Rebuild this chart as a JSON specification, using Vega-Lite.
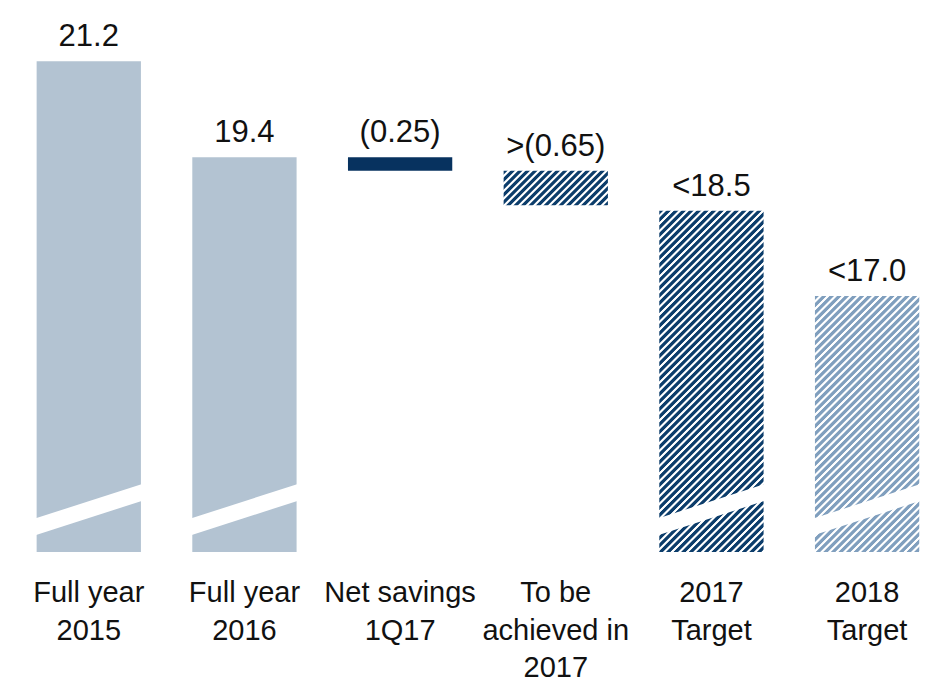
{
  "$schema": "https://vega.github.io/schema/vega-lite/v6.json",
  "width": 927,
  "height": 552,
  "autosize": {"type": "none"},
  "padding": {"left": 10, "top": 0, "right": 0, "bottom": 128},
  "background": "#ffffff",
  "config": {"view": {"stroke": null}, "font": "Liberation Sans"},
  "data": {
    "values": [
      {"cat": "Full year|2015", "lo": 12, "hi": 21.2, "label": "21.2", "kind": "actual"},
      {"cat": "Full year|2016", "lo": 12, "hi": 19.4, "label": "19.4", "kind": "actual"},
      {"cat": "Net savings|1Q17", "lo": 19.15, "hi": 19.4, "label": "(0.25)", "kind": "achieved"},
      {"cat": "To be|achieved in|2017", "lo": 18.5, "hi": 19.15, "label": ">(0.65)", "kind": "remaining"},
      {"cat": "2017|Target", "lo": 12, "hi": 18.4, "label": "<18.5", "kind": "target2017"},
      {"cat": "2018|Target", "lo": 12, "hi": 16.8, "label": "<17.0", "kind": "target2018"}
    ]
  },
  "encoding": {
    "x": {
      "field": "cat",
      "type": "nominal",
      "sort": null,
      "scale": {"type": "band", "paddingInner": 0.33, "paddingOuter": 0.1426, "align": 0.6, "round": false},
      "axis": null
    }
  },
  "layer": [
    {
      "transform": [{"filter": "datum.kind == 'actual'"}],
      "mark": {"type": "bar", "fill": "#b3c3d2"},
      "encoding": {
        "y": {"field": "lo", "type": "quantitative", "scale": {"domain": [12, 22.35], "nice": false, "zero": false}, "axis": null},
        "y2": {"field": "hi"}
      }
    },
    {
      "transform": [{"filter": "datum.kind == 'achieved'"}],
      "mark": {"type": "bar", "fill": "#07325f"},
      "encoding": {
        "y": {"field": "lo", "type": "quantitative", "scale": {"domain": [12, 22.35], "nice": false, "zero": false}, "axis": null},
        "y2": {"field": "hi"}
      }
    },
    {
      "transform": [{"filter": "datum.kind == 'remaining'"}],
      "mark": {"type": "bar", "fill": {"gradient": "linear", "x1": 0, "y1": 0, "x2": 1.1998, "y2": 0.3988, "stops": [
        {"offset": 0, "color": "#0c3d6b"}, {"offset": 0.0243, "color": "#0c3d6b"}, {"offset": 0.0324, "color": "#ffffff"}, {"offset": 0.0459, "color": "#ffffff"},
        {"offset": 0.054, "color": "#0c3d6b"}, {"offset": 0.0783, "color": "#0c3d6b"}, {"offset": 0.0864, "color": "#ffffff"}, {"offset": 0.0999, "color": "#ffffff"},
        {"offset": 0.108, "color": "#0c3d6b"}, {"offset": 0.1323, "color": "#0c3d6b"}, {"offset": 0.1404, "color": "#ffffff"}, {"offset": 0.1539, "color": "#ffffff"},
        {"offset": 0.162, "color": "#0c3d6b"}, {"offset": 0.1863, "color": "#0c3d6b"}, {"offset": 0.1944, "color": "#ffffff"}, {"offset": 0.2079, "color": "#ffffff"},
        {"offset": 0.216, "color": "#0c3d6b"}, {"offset": 0.2403, "color": "#0c3d6b"}, {"offset": 0.2484, "color": "#ffffff"}, {"offset": 0.2619, "color": "#ffffff"},
        {"offset": 0.27, "color": "#0c3d6b"}, {"offset": 0.2943, "color": "#0c3d6b"}, {"offset": 0.3024, "color": "#ffffff"}, {"offset": 0.3159, "color": "#ffffff"},
        {"offset": 0.324, "color": "#0c3d6b"}, {"offset": 0.3483, "color": "#0c3d6b"}, {"offset": 0.3564, "color": "#ffffff"}, {"offset": 0.3699, "color": "#ffffff"},
        {"offset": 0.378, "color": "#0c3d6b"}, {"offset": 0.4023, "color": "#0c3d6b"}, {"offset": 0.4104, "color": "#ffffff"}, {"offset": 0.4239, "color": "#ffffff"},
        {"offset": 0.432, "color": "#0c3d6b"}, {"offset": 0.4563, "color": "#0c3d6b"}, {"offset": 0.4644, "color": "#ffffff"}, {"offset": 0.4779, "color": "#ffffff"},
        {"offset": 0.486, "color": "#0c3d6b"}, {"offset": 0.5103, "color": "#0c3d6b"}, {"offset": 0.5184, "color": "#ffffff"}, {"offset": 0.5319, "color": "#ffffff"},
        {"offset": 0.54, "color": "#0c3d6b"}, {"offset": 0.5643, "color": "#0c3d6b"}, {"offset": 0.5724, "color": "#ffffff"}, {"offset": 0.5859, "color": "#ffffff"},
        {"offset": 0.594, "color": "#0c3d6b"}, {"offset": 0.6183, "color": "#0c3d6b"}, {"offset": 0.6264, "color": "#ffffff"}, {"offset": 0.6399, "color": "#ffffff"},
        {"offset": 0.648, "color": "#0c3d6b"}, {"offset": 0.6723, "color": "#0c3d6b"}, {"offset": 0.6804, "color": "#ffffff"}, {"offset": 0.6939, "color": "#ffffff"},
        {"offset": 0.702, "color": "#0c3d6b"}, {"offset": 0.7263, "color": "#0c3d6b"}, {"offset": 0.7344, "color": "#ffffff"}, {"offset": 0.7479, "color": "#ffffff"},
        {"offset": 0.756, "color": "#0c3d6b"}, {"offset": 0.7803, "color": "#0c3d6b"}, {"offset": 0.7884, "color": "#ffffff"}, {"offset": 0.8019, "color": "#ffffff"},
        {"offset": 0.81, "color": "#0c3d6b"}, {"offset": 0.8343, "color": "#0c3d6b"}, {"offset": 0.8424, "color": "#ffffff"}, {"offset": 0.8559, "color": "#ffffff"},
        {"offset": 0.864, "color": "#0c3d6b"}, {"offset": 0.8883, "color": "#0c3d6b"}, {"offset": 0.8964, "color": "#ffffff"}, {"offset": 0.9099, "color": "#ffffff"},
        {"offset": 0.918, "color": "#0c3d6b"}, {"offset": 0.9423, "color": "#0c3d6b"}, {"offset": 0.9504, "color": "#ffffff"}, {"offset": 0.9639, "color": "#ffffff"},
        {"offset": 0.972, "color": "#0c3d6b"}, {"offset": 0.9963, "color": "#0c3d6b"}, {"offset": 1, "color": "#ffffff"}
      ]}},
      "encoding": {
        "y": {"field": "lo", "type": "quantitative", "scale": {"domain": [12, 22.35], "nice": false, "zero": false}, "axis": null},
        "y2": {"field": "hi"}
      }
    },
    {
      "transform": [{"filter": "datum.kind == 'target2017'"}],
      "mark": {"type": "bar", "fill": {"gradient": "linear", "x1": 0, "y1": 0, "x2": 0.3649, "y2": 1.1941, "stops": [
        {"offset": 0, "color": "#0c3d6b"}, {"offset": 0.0077, "color": "#0c3d6b"}, {"offset": 0.0102, "color": "#ffffff"}, {"offset": 0.0145, "color": "#ffffff"},
        {"offset": 0.017, "color": "#0c3d6b"}, {"offset": 0.0247, "color": "#0c3d6b"}, {"offset": 0.0272, "color": "#ffffff"}, {"offset": 0.0315, "color": "#ffffff"},
        {"offset": 0.034, "color": "#0c3d6b"}, {"offset": 0.0417, "color": "#0c3d6b"}, {"offset": 0.0442, "color": "#ffffff"}, {"offset": 0.0485, "color": "#ffffff"},
        {"offset": 0.051, "color": "#0c3d6b"}, {"offset": 0.0587, "color": "#0c3d6b"}, {"offset": 0.0612, "color": "#ffffff"}, {"offset": 0.0655, "color": "#ffffff"},
        {"offset": 0.068, "color": "#0c3d6b"}, {"offset": 0.0757, "color": "#0c3d6b"}, {"offset": 0.0782, "color": "#ffffff"}, {"offset": 0.0825, "color": "#ffffff"},
        {"offset": 0.085, "color": "#0c3d6b"}, {"offset": 0.0927, "color": "#0c3d6b"}, {"offset": 0.0952, "color": "#ffffff"}, {"offset": 0.0995, "color": "#ffffff"},
        {"offset": 0.102, "color": "#0c3d6b"}, {"offset": 0.1097, "color": "#0c3d6b"}, {"offset": 0.1122, "color": "#ffffff"}, {"offset": 0.1165, "color": "#ffffff"},
        {"offset": 0.119, "color": "#0c3d6b"}, {"offset": 0.1267, "color": "#0c3d6b"}, {"offset": 0.1292, "color": "#ffffff"}, {"offset": 0.1335, "color": "#ffffff"},
        {"offset": 0.136, "color": "#0c3d6b"}, {"offset": 0.1437, "color": "#0c3d6b"}, {"offset": 0.1462, "color": "#ffffff"}, {"offset": 0.1505, "color": "#ffffff"},
        {"offset": 0.153, "color": "#0c3d6b"}, {"offset": 0.1607, "color": "#0c3d6b"}, {"offset": 0.1632, "color": "#ffffff"}, {"offset": 0.1675, "color": "#ffffff"},
        {"offset": 0.17, "color": "#0c3d6b"}, {"offset": 0.1777, "color": "#0c3d6b"}, {"offset": 0.1802, "color": "#ffffff"}, {"offset": 0.1845, "color": "#ffffff"},
        {"offset": 0.187, "color": "#0c3d6b"}, {"offset": 0.1947, "color": "#0c3d6b"}, {"offset": 0.1972, "color": "#ffffff"}, {"offset": 0.2015, "color": "#ffffff"},
        {"offset": 0.204, "color": "#0c3d6b"}, {"offset": 0.2117, "color": "#0c3d6b"}, {"offset": 0.2142, "color": "#ffffff"}, {"offset": 0.2185, "color": "#ffffff"},
        {"offset": 0.221, "color": "#0c3d6b"}, {"offset": 0.2287, "color": "#0c3d6b"}, {"offset": 0.2312, "color": "#ffffff"}, {"offset": 0.2355, "color": "#ffffff"},
        {"offset": 0.238, "color": "#0c3d6b"}, {"offset": 0.2457, "color": "#0c3d6b"}, {"offset": 0.2482, "color": "#ffffff"}, {"offset": 0.2525, "color": "#ffffff"},
        {"offset": 0.255, "color": "#0c3d6b"}, {"offset": 0.2627, "color": "#0c3d6b"}, {"offset": 0.2652, "color": "#ffffff"}, {"offset": 0.2695, "color": "#ffffff"},
        {"offset": 0.272, "color": "#0c3d6b"}, {"offset": 0.2797, "color": "#0c3d6b"}, {"offset": 0.2822, "color": "#ffffff"}, {"offset": 0.2865, "color": "#ffffff"},
        {"offset": 0.289, "color": "#0c3d6b"}, {"offset": 0.2967, "color": "#0c3d6b"}, {"offset": 0.2992, "color": "#ffffff"}, {"offset": 0.3035, "color": "#ffffff"},
        {"offset": 0.306, "color": "#0c3d6b"}, {"offset": 0.3137, "color": "#0c3d6b"}, {"offset": 0.3162, "color": "#ffffff"}, {"offset": 0.3205, "color": "#ffffff"},
        {"offset": 0.323, "color": "#0c3d6b"}, {"offset": 0.3307, "color": "#0c3d6b"}, {"offset": 0.3332, "color": "#ffffff"}, {"offset": 0.3375, "color": "#ffffff"},
        {"offset": 0.34, "color": "#0c3d6b"}, {"offset": 0.3477, "color": "#0c3d6b"}, {"offset": 0.3502, "color": "#ffffff"}, {"offset": 0.3545, "color": "#ffffff"},
        {"offset": 0.357, "color": "#0c3d6b"}, {"offset": 0.3647, "color": "#0c3d6b"}, {"offset": 0.3672, "color": "#ffffff"}, {"offset": 0.3715, "color": "#ffffff"},
        {"offset": 0.374, "color": "#0c3d6b"}, {"offset": 0.3817, "color": "#0c3d6b"}, {"offset": 0.3842, "color": "#ffffff"}, {"offset": 0.3885, "color": "#ffffff"},
        {"offset": 0.391, "color": "#0c3d6b"}, {"offset": 0.3987, "color": "#0c3d6b"}, {"offset": 0.4012, "color": "#ffffff"}, {"offset": 0.4055, "color": "#ffffff"},
        {"offset": 0.408, "color": "#0c3d6b"}, {"offset": 0.4157, "color": "#0c3d6b"}, {"offset": 0.4182, "color": "#ffffff"}, {"offset": 0.4225, "color": "#ffffff"},
        {"offset": 0.425, "color": "#0c3d6b"}, {"offset": 0.4327, "color": "#0c3d6b"}, {"offset": 0.4352, "color": "#ffffff"}, {"offset": 0.4395, "color": "#ffffff"},
        {"offset": 0.442, "color": "#0c3d6b"}, {"offset": 0.4497, "color": "#0c3d6b"}, {"offset": 0.4522, "color": "#ffffff"}, {"offset": 0.4565, "color": "#ffffff"},
        {"offset": 0.459, "color": "#0c3d6b"}, {"offset": 0.4667, "color": "#0c3d6b"}, {"offset": 0.4692, "color": "#ffffff"}, {"offset": 0.4735, "color": "#ffffff"},
        {"offset": 0.476, "color": "#0c3d6b"}, {"offset": 0.4837, "color": "#0c3d6b"}, {"offset": 0.4862, "color": "#ffffff"}, {"offset": 0.4905, "color": "#ffffff"},
        {"offset": 0.493, "color": "#0c3d6b"}, {"offset": 0.5007, "color": "#0c3d6b"}, {"offset": 0.5032, "color": "#ffffff"}, {"offset": 0.5075, "color": "#ffffff"},
        {"offset": 0.51, "color": "#0c3d6b"}, {"offset": 0.5177, "color": "#0c3d6b"}, {"offset": 0.5202, "color": "#ffffff"}, {"offset": 0.5245, "color": "#ffffff"},
        {"offset": 0.527, "color": "#0c3d6b"}, {"offset": 0.5347, "color": "#0c3d6b"}, {"offset": 0.5372, "color": "#ffffff"}, {"offset": 0.5415, "color": "#ffffff"},
        {"offset": 0.544, "color": "#0c3d6b"}, {"offset": 0.5517, "color": "#0c3d6b"}, {"offset": 0.5542, "color": "#ffffff"}, {"offset": 0.5585, "color": "#ffffff"},
        {"offset": 0.561, "color": "#0c3d6b"}, {"offset": 0.5687, "color": "#0c3d6b"}, {"offset": 0.5712, "color": "#ffffff"}, {"offset": 0.5755, "color": "#ffffff"},
        {"offset": 0.578, "color": "#0c3d6b"}, {"offset": 0.5857, "color": "#0c3d6b"}, {"offset": 0.5882, "color": "#ffffff"}, {"offset": 0.5925, "color": "#ffffff"},
        {"offset": 0.595, "color": "#0c3d6b"}, {"offset": 0.6027, "color": "#0c3d6b"}, {"offset": 0.6052, "color": "#ffffff"}, {"offset": 0.6095, "color": "#ffffff"},
        {"offset": 0.612, "color": "#0c3d6b"}, {"offset": 0.6197, "color": "#0c3d6b"}, {"offset": 0.6222, "color": "#ffffff"}, {"offset": 0.6265, "color": "#ffffff"},
        {"offset": 0.629, "color": "#0c3d6b"}, {"offset": 0.6367, "color": "#0c3d6b"}, {"offset": 0.6392, "color": "#ffffff"}, {"offset": 0.6435, "color": "#ffffff"},
        {"offset": 0.646, "color": "#0c3d6b"}, {"offset": 0.6537, "color": "#0c3d6b"}, {"offset": 0.6562, "color": "#ffffff"}, {"offset": 0.6605, "color": "#ffffff"},
        {"offset": 0.663, "color": "#0c3d6b"}, {"offset": 0.6707, "color": "#0c3d6b"}, {"offset": 0.6732, "color": "#ffffff"}, {"offset": 0.6775, "color": "#ffffff"},
        {"offset": 0.68, "color": "#0c3d6b"}, {"offset": 0.6877, "color": "#0c3d6b"}, {"offset": 0.6902, "color": "#ffffff"}, {"offset": 0.6945, "color": "#ffffff"},
        {"offset": 0.697, "color": "#0c3d6b"}, {"offset": 0.7047, "color": "#0c3d6b"}, {"offset": 0.7072, "color": "#ffffff"}, {"offset": 0.7115, "color": "#ffffff"},
        {"offset": 0.714, "color": "#0c3d6b"}, {"offset": 0.7217, "color": "#0c3d6b"}, {"offset": 0.7242, "color": "#ffffff"}, {"offset": 0.7285, "color": "#ffffff"},
        {"offset": 0.731, "color": "#0c3d6b"}, {"offset": 0.7387, "color": "#0c3d6b"}, {"offset": 0.7412, "color": "#ffffff"}, {"offset": 0.7455, "color": "#ffffff"},
        {"offset": 0.748, "color": "#0c3d6b"}, {"offset": 0.7557, "color": "#0c3d6b"}, {"offset": 0.7582, "color": "#ffffff"}, {"offset": 0.7625, "color": "#ffffff"},
        {"offset": 0.765, "color": "#0c3d6b"}, {"offset": 0.7727, "color": "#0c3d6b"}, {"offset": 0.7752, "color": "#ffffff"}, {"offset": 0.7795, "color": "#ffffff"},
        {"offset": 0.782, "color": "#0c3d6b"}, {"offset": 0.7897, "color": "#0c3d6b"}, {"offset": 0.7922, "color": "#ffffff"}, {"offset": 0.7965, "color": "#ffffff"},
        {"offset": 0.799, "color": "#0c3d6b"}, {"offset": 0.8067, "color": "#0c3d6b"}, {"offset": 0.8092, "color": "#ffffff"}, {"offset": 0.8135, "color": "#ffffff"},
        {"offset": 0.816, "color": "#0c3d6b"}, {"offset": 0.8237, "color": "#0c3d6b"}, {"offset": 0.8262, "color": "#ffffff"}, {"offset": 0.8305, "color": "#ffffff"},
        {"offset": 0.833, "color": "#0c3d6b"}, {"offset": 0.8407, "color": "#0c3d6b"}, {"offset": 0.8432, "color": "#ffffff"}, {"offset": 0.8475, "color": "#ffffff"},
        {"offset": 0.85, "color": "#0c3d6b"}, {"offset": 0.8577, "color": "#0c3d6b"}, {"offset": 0.8602, "color": "#ffffff"}, {"offset": 0.8645, "color": "#ffffff"},
        {"offset": 0.867, "color": "#0c3d6b"}, {"offset": 0.8747, "color": "#0c3d6b"}, {"offset": 0.8772, "color": "#ffffff"}, {"offset": 0.8815, "color": "#ffffff"},
        {"offset": 0.884, "color": "#0c3d6b"}, {"offset": 0.8917, "color": "#0c3d6b"}, {"offset": 0.8942, "color": "#ffffff"}, {"offset": 0.8985, "color": "#ffffff"},
        {"offset": 0.901, "color": "#0c3d6b"}, {"offset": 0.9087, "color": "#0c3d6b"}, {"offset": 0.9112, "color": "#ffffff"}, {"offset": 0.9155, "color": "#ffffff"},
        {"offset": 0.918, "color": "#0c3d6b"}, {"offset": 0.9257, "color": "#0c3d6b"}, {"offset": 0.9282, "color": "#ffffff"}, {"offset": 0.9325, "color": "#ffffff"},
        {"offset": 0.935, "color": "#0c3d6b"}, {"offset": 0.9427, "color": "#0c3d6b"}, {"offset": 0.9452, "color": "#ffffff"}, {"offset": 0.9495, "color": "#ffffff"},
        {"offset": 0.952, "color": "#0c3d6b"}, {"offset": 0.9597, "color": "#0c3d6b"}, {"offset": 0.9622, "color": "#ffffff"}, {"offset": 0.9665, "color": "#ffffff"},
        {"offset": 0.969, "color": "#0c3d6b"}, {"offset": 0.9767, "color": "#0c3d6b"}, {"offset": 0.9792, "color": "#ffffff"}, {"offset": 0.9835, "color": "#ffffff"},
        {"offset": 0.986, "color": "#0c3d6b"}, {"offset": 0.9937, "color": "#0c3d6b"}, {"offset": 0.9962, "color": "#ffffff"}, {"offset": 1, "color": "#ffffff"}
      ]}},
      "encoding": {
        "y": {"field": "lo", "type": "quantitative", "scale": {"domain": [12, 22.35], "nice": false, "zero": false}, "axis": null},
        "y2": {"field": "hi"}
      }
    },
    {
      "transform": [{"filter": "datum.kind == 'target2018'"}],
      "mark": {"type": "bar", "fill": {"gradient": "linear", "x1": 0, "y1": 0, "x2": 0.4918, "y2": 1.2071, "stops": [
        {"offset": 0, "color": "#809fbe"}, {"offset": 0.0095, "color": "#809fbe"}, {"offset": 0.0126, "color": "#ffffff"}, {"offset": 0.0179, "color": "#ffffff"},
        {"offset": 0.021, "color": "#809fbe"}, {"offset": 0.0305, "color": "#809fbe"}, {"offset": 0.0336, "color": "#ffffff"}, {"offset": 0.0389, "color": "#ffffff"},
        {"offset": 0.042, "color": "#809fbe"}, {"offset": 0.0515, "color": "#809fbe"}, {"offset": 0.0546, "color": "#ffffff"}, {"offset": 0.0599, "color": "#ffffff"},
        {"offset": 0.063, "color": "#809fbe"}, {"offset": 0.0725, "color": "#809fbe"}, {"offset": 0.0756, "color": "#ffffff"}, {"offset": 0.0809, "color": "#ffffff"},
        {"offset": 0.084, "color": "#809fbe"}, {"offset": 0.0935, "color": "#809fbe"}, {"offset": 0.0966, "color": "#ffffff"}, {"offset": 0.1019, "color": "#ffffff"},
        {"offset": 0.105, "color": "#809fbe"}, {"offset": 0.1145, "color": "#809fbe"}, {"offset": 0.1176, "color": "#ffffff"}, {"offset": 0.1229, "color": "#ffffff"},
        {"offset": 0.126, "color": "#809fbe"}, {"offset": 0.1355, "color": "#809fbe"}, {"offset": 0.1386, "color": "#ffffff"}, {"offset": 0.1439, "color": "#ffffff"},
        {"offset": 0.147, "color": "#809fbe"}, {"offset": 0.1565, "color": "#809fbe"}, {"offset": 0.1596, "color": "#ffffff"}, {"offset": 0.1649, "color": "#ffffff"},
        {"offset": 0.168, "color": "#809fbe"}, {"offset": 0.1775, "color": "#809fbe"}, {"offset": 0.1806, "color": "#ffffff"}, {"offset": 0.1859, "color": "#ffffff"},
        {"offset": 0.189, "color": "#809fbe"}, {"offset": 0.1985, "color": "#809fbe"}, {"offset": 0.2016, "color": "#ffffff"}, {"offset": 0.2069, "color": "#ffffff"},
        {"offset": 0.21, "color": "#809fbe"}, {"offset": 0.2195, "color": "#809fbe"}, {"offset": 0.2226, "color": "#ffffff"}, {"offset": 0.2279, "color": "#ffffff"},
        {"offset": 0.231, "color": "#809fbe"}, {"offset": 0.2405, "color": "#809fbe"}, {"offset": 0.2436, "color": "#ffffff"}, {"offset": 0.2489, "color": "#ffffff"},
        {"offset": 0.252, "color": "#809fbe"}, {"offset": 0.2615, "color": "#809fbe"}, {"offset": 0.2646, "color": "#ffffff"}, {"offset": 0.2699, "color": "#ffffff"},
        {"offset": 0.273, "color": "#809fbe"}, {"offset": 0.2825, "color": "#809fbe"}, {"offset": 0.2856, "color": "#ffffff"}, {"offset": 0.2909, "color": "#ffffff"},
        {"offset": 0.294, "color": "#809fbe"}, {"offset": 0.3035, "color": "#809fbe"}, {"offset": 0.3066, "color": "#ffffff"}, {"offset": 0.3119, "color": "#ffffff"},
        {"offset": 0.315, "color": "#809fbe"}, {"offset": 0.3245, "color": "#809fbe"}, {"offset": 0.3276, "color": "#ffffff"}, {"offset": 0.3329, "color": "#ffffff"},
        {"offset": 0.336, "color": "#809fbe"}, {"offset": 0.3455, "color": "#809fbe"}, {"offset": 0.3486, "color": "#ffffff"}, {"offset": 0.3539, "color": "#ffffff"},
        {"offset": 0.357, "color": "#809fbe"}, {"offset": 0.3665, "color": "#809fbe"}, {"offset": 0.3696, "color": "#ffffff"}, {"offset": 0.3749, "color": "#ffffff"},
        {"offset": 0.378, "color": "#809fbe"}, {"offset": 0.3875, "color": "#809fbe"}, {"offset": 0.3906, "color": "#ffffff"}, {"offset": 0.3959, "color": "#ffffff"},
        {"offset": 0.399, "color": "#809fbe"}, {"offset": 0.4085, "color": "#809fbe"}, {"offset": 0.4116, "color": "#ffffff"}, {"offset": 0.4169, "color": "#ffffff"},
        {"offset": 0.42, "color": "#809fbe"}, {"offset": 0.4295, "color": "#809fbe"}, {"offset": 0.4326, "color": "#ffffff"}, {"offset": 0.4379, "color": "#ffffff"},
        {"offset": 0.441, "color": "#809fbe"}, {"offset": 0.4505, "color": "#809fbe"}, {"offset": 0.4536, "color": "#ffffff"}, {"offset": 0.4589, "color": "#ffffff"},
        {"offset": 0.462, "color": "#809fbe"}, {"offset": 0.4715, "color": "#809fbe"}, {"offset": 0.4746, "color": "#ffffff"}, {"offset": 0.4799, "color": "#ffffff"},
        {"offset": 0.483, "color": "#809fbe"}, {"offset": 0.4925, "color": "#809fbe"}, {"offset": 0.4956, "color": "#ffffff"}, {"offset": 0.5009, "color": "#ffffff"},
        {"offset": 0.504, "color": "#809fbe"}, {"offset": 0.5135, "color": "#809fbe"}, {"offset": 0.5166, "color": "#ffffff"}, {"offset": 0.5219, "color": "#ffffff"},
        {"offset": 0.525, "color": "#809fbe"}, {"offset": 0.5345, "color": "#809fbe"}, {"offset": 0.5376, "color": "#ffffff"}, {"offset": 0.5429, "color": "#ffffff"},
        {"offset": 0.546, "color": "#809fbe"}, {"offset": 0.5555, "color": "#809fbe"}, {"offset": 0.5586, "color": "#ffffff"}, {"offset": 0.5639, "color": "#ffffff"},
        {"offset": 0.567, "color": "#809fbe"}, {"offset": 0.5765, "color": "#809fbe"}, {"offset": 0.5796, "color": "#ffffff"}, {"offset": 0.5849, "color": "#ffffff"},
        {"offset": 0.588, "color": "#809fbe"}, {"offset": 0.5975, "color": "#809fbe"}, {"offset": 0.6006, "color": "#ffffff"}, {"offset": 0.6059, "color": "#ffffff"},
        {"offset": 0.609, "color": "#809fbe"}, {"offset": 0.6185, "color": "#809fbe"}, {"offset": 0.6216, "color": "#ffffff"}, {"offset": 0.6269, "color": "#ffffff"},
        {"offset": 0.63, "color": "#809fbe"}, {"offset": 0.6395, "color": "#809fbe"}, {"offset": 0.6426, "color": "#ffffff"}, {"offset": 0.6479, "color": "#ffffff"},
        {"offset": 0.651, "color": "#809fbe"}, {"offset": 0.6605, "color": "#809fbe"}, {"offset": 0.6636, "color": "#ffffff"}, {"offset": 0.6689, "color": "#ffffff"},
        {"offset": 0.672, "color": "#809fbe"}, {"offset": 0.6815, "color": "#809fbe"}, {"offset": 0.6846, "color": "#ffffff"}, {"offset": 0.6899, "color": "#ffffff"},
        {"offset": 0.693, "color": "#809fbe"}, {"offset": 0.7025, "color": "#809fbe"}, {"offset": 0.7056, "color": "#ffffff"}, {"offset": 0.7109, "color": "#ffffff"},
        {"offset": 0.714, "color": "#809fbe"}, {"offset": 0.7235, "color": "#809fbe"}, {"offset": 0.7266, "color": "#ffffff"}, {"offset": 0.7319, "color": "#ffffff"},
        {"offset": 0.735, "color": "#809fbe"}, {"offset": 0.7445, "color": "#809fbe"}, {"offset": 0.7476, "color": "#ffffff"}, {"offset": 0.7529, "color": "#ffffff"},
        {"offset": 0.756, "color": "#809fbe"}, {"offset": 0.7655, "color": "#809fbe"}, {"offset": 0.7686, "color": "#ffffff"}, {"offset": 0.7739, "color": "#ffffff"},
        {"offset": 0.777, "color": "#809fbe"}, {"offset": 0.7865, "color": "#809fbe"}, {"offset": 0.7896, "color": "#ffffff"}, {"offset": 0.7949, "color": "#ffffff"},
        {"offset": 0.798, "color": "#809fbe"}, {"offset": 0.8075, "color": "#809fbe"}, {"offset": 0.8106, "color": "#ffffff"}, {"offset": 0.8159, "color": "#ffffff"},
        {"offset": 0.819, "color": "#809fbe"}, {"offset": 0.8285, "color": "#809fbe"}, {"offset": 0.8316, "color": "#ffffff"}, {"offset": 0.8369, "color": "#ffffff"},
        {"offset": 0.84, "color": "#809fbe"}, {"offset": 0.8495, "color": "#809fbe"}, {"offset": 0.8526, "color": "#ffffff"}, {"offset": 0.8579, "color": "#ffffff"},
        {"offset": 0.861, "color": "#809fbe"}, {"offset": 0.8705, "color": "#809fbe"}, {"offset": 0.8736, "color": "#ffffff"}, {"offset": 0.8789, "color": "#ffffff"},
        {"offset": 0.882, "color": "#809fbe"}, {"offset": 0.8915, "color": "#809fbe"}, {"offset": 0.8946, "color": "#ffffff"}, {"offset": 0.8999, "color": "#ffffff"},
        {"offset": 0.903, "color": "#809fbe"}, {"offset": 0.9125, "color": "#809fbe"}, {"offset": 0.9156, "color": "#ffffff"}, {"offset": 0.9209, "color": "#ffffff"},
        {"offset": 0.924, "color": "#809fbe"}, {"offset": 0.9335, "color": "#809fbe"}, {"offset": 0.9366, "color": "#ffffff"}, {"offset": 0.9419, "color": "#ffffff"},
        {"offset": 0.945, "color": "#809fbe"}, {"offset": 0.9545, "color": "#809fbe"}, {"offset": 0.9576, "color": "#ffffff"}, {"offset": 0.9629, "color": "#ffffff"},
        {"offset": 0.966, "color": "#809fbe"}, {"offset": 0.9755, "color": "#809fbe"}, {"offset": 0.9786, "color": "#ffffff"}, {"offset": 0.9839, "color": "#ffffff"},
        {"offset": 0.987, "color": "#809fbe"}, {"offset": 0.9965, "color": "#809fbe"}, {"offset": 1, "color": "#ffffff"}
      ]}},
      "encoding": {
        "y": {"field": "lo", "type": "quantitative", "scale": {"domain": [12, 22.35], "nice": false, "zero": false}, "axis": null},
        "y2": {"field": "hi"}
      }
    },
    {
      "transform": [{"filter": "datum.lo == 12"}],
      "mark": {"type": "rule", "color": "#ffffff", "strokeWidth": 16, "strokeCap": "square"},
      "encoding": {
        "x": {"field": "cat", "type": "nominal", "sort": null, "bandPosition": 0, "axis": null},
        "x2": {"field": "cat", "bandPosition": 1},
        "y": {"datum": 12.48, "type": "quantitative", "scale": {"domain": [12, 22.35], "nice": false, "zero": false}, "axis": null},
        "y2": {"datum": 13.11}
      }
    },
    {
      "mark": {"type": "rule", "color": "#9e958d", "strokeWidth": 2},
      "encoding": {
        "y": {"datum": 12, "type": "quantitative", "scale": {"domain": [12, 22.35], "nice": false, "zero": false}, "axis": null}
      }
    },
    {
      "mark": {"type": "text", "font": "Liberation Sans", "fontSize": 31, "color": "#111111", "baseline": "alphabetic", "dy": -15},
      "encoding": {
        "y": {"field": "hi", "type": "quantitative", "scale": {"domain": [12, 22.35], "nice": false, "zero": false}, "axis": null},
        "text": {"field": "label"}
      }
    },
    {
      "mark": {"type": "text", "font": "Liberation Sans", "fontSize": 29, "color": "#111111", "baseline": "top", "align": "center", "lineBreak": "|", "lineHeight": 37.5, "dy": 27},
      "encoding": {
        "y": {"datum": 12, "type": "quantitative", "scale": {"domain": [12, 22.35], "nice": false, "zero": false}, "axis": null},
        "text": {"field": "cat"}
      }
    }
  ]
}
